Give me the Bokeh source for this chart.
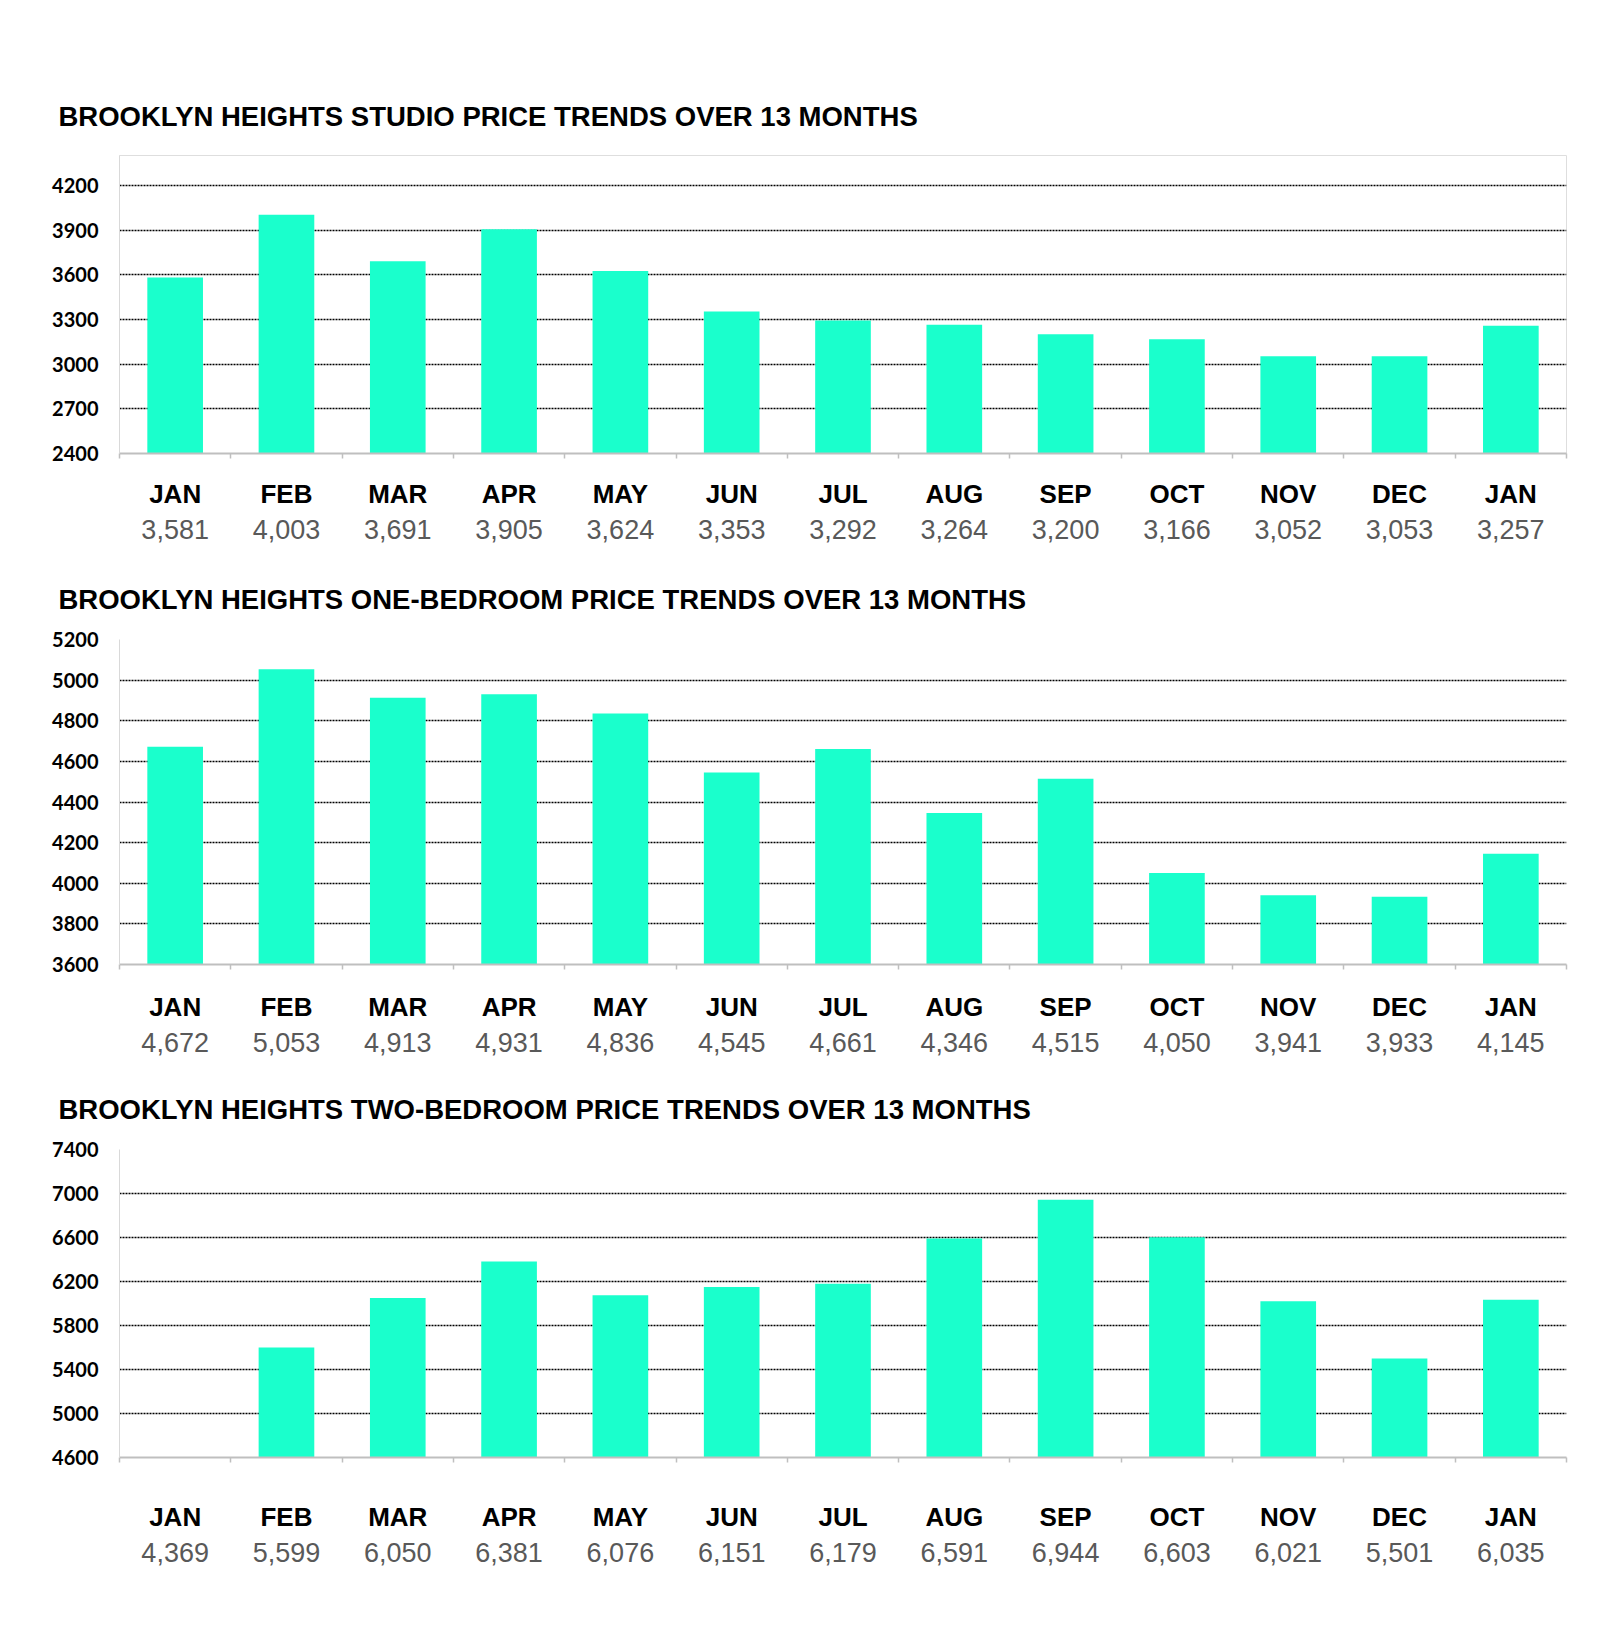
from bokeh.plotting import figure
from bokeh.layouts import column
from bokeh.models import (Range1d, LinearAxis, FixedTicker, CustomJSTickFormatter, Title,
                          ColumnDataSource)
from bokeh.embed import file_html
from bokeh.resources import INLINE

months = ["JAN", "FEB", "MAR", "APR", "MAY", "JUN", "JUL", "AUG", "SEP", "OCT", "NOV", "DEC", "JAN"]
studio = [3581, 4003, 3691, 3905, 3624, 3353, 3292, 3264, 3200, 3166, 3052, 3053, 3257]
one_bed = [4672, 5053, 4913, 4931, 4836, 4545, 4661, 4346, 4515, 4050, 3941, 3933, 4145]
two_bed = [4369, 5599, 6050, 6381, 6076, 6151, 6179, 6591, 6944, 6603, 6021, 5501, 6035]

titles = ["BROOKLYN HEIGHTS STUDIO PRICE TRENDS OVER 13 MONTHS",
          "BROOKLYN HEIGHTS ONE-BEDROOM PRICE TRENDS OVER 13 MONTHS",
          "BROOKLYN HEIGHTS TWO-BEDROOM PRICE TRENDS OVER 13 MONTHS"]
studio_ticks = [2400, 2700, 3000, 3300, 3600, 3900, 4200]
one_bed_ticks = [3600, 3800, 4000, 4200, 4400, 4600, 4800, 5000, 5200]
two_bed_ticks = [4600, 5000, 5400, 5800, 6200, 6600, 7000, 7400]

BAR = "#1AFFCC"
W = 1584
n = len(months)
centers = [i + 0.5 for i in range(n)]


def make_chart(title, values, ticks, y_end, height, top, bottom_space, m_stand, v_stand, outline, t_stand):
    y_start = ticks[0]
    p = figure(width=W, height=height, output_backend="svg", toolbar_location=None,
               x_range=Range1d(0, n), y_range=Range1d(y_start, y_end), x_axis_location=None,
               min_border_left=119, min_border_right=18, min_border_top=top,
               min_border_bottom=bottom_space)
    p.background_fill_color = "white"
    p.border_fill_color = "white"
    p.outline_line_color = "#dedede" if outline else None

    p.title = Title(text=title, align="left", offset=-61, standoff=t_stand,
                    text_font="Liberation Sans", text_font_style="bold",
                    text_font_size="27.5px", text_color="black")

    src = ColumnDataSource(dict(x=centers, top=values, bottom=[y_start] * n))
    p.vbar(x="x", top="top", bottom="bottom", width=0.5, source=src,
           fill_color=BAR, line_color=None)

    # y axis
    p.yaxis.ticker = FixedTicker(ticks=ticks)
    p.yaxis.axis_line_color = "#d9d9d9"
    p.yaxis.major_tick_line_color = None
    p.yaxis.minor_tick_line_color = None
    p.yaxis.major_label_text_font = "Lato"
    p.yaxis.major_label_text_font_style = "bold"
    p.yaxis.major_label_text_font_size = "20px"
    p.yaxis.major_label_text_color = "black"
    p.yaxis.major_label_standoff = 15

    p.xgrid.grid_line_color = None
    p.ygrid.ticker = FixedTicker(ticks=ticks[1:])
    p.ygrid.grid_line_color = "black"
    p.ygrid.grid_line_dash = "2 1"
    p.ygrid.grid_line_width = 1.5

    # category boundary axis
    edge = LinearAxis(ticker=FixedTicker(ticks=list(range(n + 1))),
                      formatter=CustomJSTickFormatter(code="return ''"))
    edge.axis_line_color = "#bfbfbf"
    edge.axis_line_width = 2
    edge.major_tick_line_color = "#bfbfbf"
    edge.major_tick_line_width = 1.5
    edge.major_tick_out = 5
    edge.major_tick_in = 0
    edge.minor_tick_line_color = None
    edge.major_label_text_font_size = "1px"
    edge.major_label_standoff = 0
    p.add_layout(edge, "below")

    month_axis = LinearAxis(ticker=FixedTicker(ticks=centers),
                            formatter=CustomJSTickFormatter(args=dict(labels=months),
                                                            code="return labels[Math.floor(tick)]"))
    month_axis.axis_line_color = None
    month_axis.major_tick_line_color = None
    month_axis.minor_tick_line_color = None
    month_axis.major_label_text_font = "Liberation Sans"
    month_axis.major_label_text_font_style = "bold"
    month_axis.major_label_text_font_size = "26px"
    month_axis.major_label_text_color = "black"
    month_axis.major_label_standoff = m_stand
    p.add_layout(month_axis, "below")

    value_labels = [f"{v:,}" for v in values]
    value_axis = LinearAxis(ticker=FixedTicker(ticks=centers),
                            formatter=CustomJSTickFormatter(args=dict(labels=value_labels),
                                                            code="return labels[Math.floor(tick)]"))
    value_axis.axis_line_color = None
    value_axis.major_tick_line_color = None
    value_axis.minor_tick_line_color = None
    value_axis.major_label_text_font = "Liberation Sans"
    value_axis.major_label_text_font_size = "27px"
    value_axis.major_label_text_color = "#595959"
    value_axis.major_label_standoff = v_stand
    p.add_layout(value_axis, "below")
    return p


p1 = make_chart(titles[0], studio, studio_ticks, 4400, 555, 155, 102, 14, 2, True, 48)
p2 = make_chart(titles[1], one_bed, one_bed_ticks, 5200, 510, 84, 101, 16, 2, False, 50)
p3 = make_chart(titles[2], two_bed, two_bed_ticks, 7400, 565, 84, 173, 33, 2, False, 50)

layout = column(p1, p2, p3, spacing=0)
open("out.html", "w").write(file_html(layout, INLINE))
